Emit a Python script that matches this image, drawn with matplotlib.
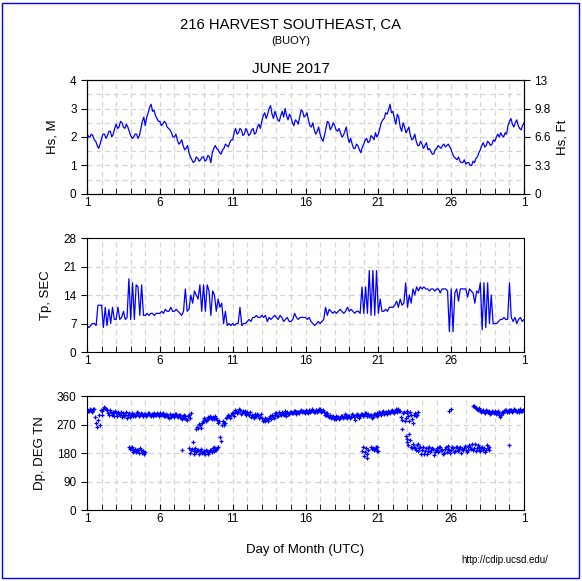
import numpy as np
import matplotlib
matplotlib.use("Agg")
import matplotlib.pyplot as plt
from matplotlib.patches import Rectangle

plt.rcParams['font.family'] = ['Liberation Sans', 'DejaVu Sans']

N = np.nan

# Hs (m), every 0.2 day from day 1.0 to 31.0
hs_m = [
    2.15, 2.0, 2.05, 1.85, 1.6,
    1.95, 2.1, 2.05, 2.2, 2.1,
    2.45, 2.35, 2.5, 2.3, 2.35,
    2.05, 2.0, 2.1, 2.05, 2.55,
    2.4, 2.85, 3.15, 2.95, 2.65,
    2.55, 2.45, 2.5, 2.3, 2.15,
    2.0, 1.9, 1.8, 1.7, 1.6,
    1.45, 1.2, 1.15, 1.25, 1.2,
    1.3, 1.2, 1.3, 1.45, 1.7,
    1.55, 1.4, 1.6, 1.7, 1.8,
    1.9, 2.3, 2.15, 2.25, 2.1,
    2.2, 2.1, 2.3, 2.15, 2.45,
    2.55, 2.85, 2.8, 3.1, 2.65,
    2.75, 2.55, 2.9, 3.0, 2.6,
    2.7, 2.4, 2.55, 2.7, 2.9,
    2.75, 2.6, 2.35, 2.25, 2.2,
    2.1, 1.85, 2.3, 2.5, 2.35,
    2.4, 2.2, 2.15, 2.05, 2.35,
    1.8, 1.75, 1.6, 1.7, 1.45,
    1.75, 1.95, 1.85, 2.0, 2.15,
    2.1, 2.5, 2.65, 2.8, 3.15,
    2.9, 2.45, 2.7, 2.2, 2.35,
    2.25, 2.05, 1.95, 1.85, 1.7,
    1.75, 1.7, 1.55, 1.5, 1.4,
    1.6, 1.65, 1.7, 1.65, 1.75,
    1.55, 1.3, 1.2, 1.15, 1.1,
    1.05, 1.1, 1.0, 1.1, 1.3,
    1.55, 1.8, 1.7, 1.8, 1.75,
    1.85, 2.1, 2.15, 2.0, 2.1,
    2.55, 2.45, 2.5, 2.4, 2.25,
    2.5,
]
# Hs (m) in between, days 1.1, 1.3, ... 30.9
hs_m_mid = [
    2.0, 2.1, 1.9, 1.7, 1.75,
    2.1, 1.95, 2.2, 2.0, 2.3,
    2.3, 2.55, 2.35, 2.45, 2.2,
    1.95, 2.1, 1.95, 2.3, 2.7,
    2.7, 3.05, 2.9, 2.75, 2.55,
    2.4, 2.55, 2.35, 2.25, 2.0,
    2.1, 1.75, 1.9, 1.55, 1.7,
    1.3, 1.1, 1.3, 1.15, 1.3,
    1.15, 1.35, 1.1, 1.6, 1.6,
    1.45, 1.55, 1.75, 1.65, 1.9,
    2.15, 2.1, 2.3, 2.05, 2.3,
    2.05, 2.25, 2.1, 2.35, 2.3,
    2.75, 2.65, 3.0, 2.8, 2.9,
    2.6, 2.75, 2.7, 2.75, 2.8,
    2.5, 2.6, 2.45, 2.95, 2.7,
    2.85, 2.4, 2.5, 2.1, 2.35,
    1.95, 2.05, 2.55, 2.25, 2.5,
    2.25, 2.3, 2.0, 2.2, 2.0,
    1.95, 1.6, 1.75, 1.55, 1.65,
    1.9, 1.8, 2.05, 1.9, 2.0,
    2.3, 2.6, 2.85, 2.95, 2.85,
    2.65, 2.8, 2.35, 2.5, 2.15,
    2.35, 1.9, 2.1, 1.7, 1.85,
    1.6, 1.8, 1.6, 1.4, 1.55,
    1.7, 1.6, 1.75, 1.7, 1.65,
    1.4, 1.25, 1.3, 1.1, 1.2,
    1.1, 1.0, 1.15, 1.25, 1.45,
    1.7, 1.65, 1.85, 1.7, 1.9,
    2.0, 2.0, 2.05, 2.15, 2.4,
    2.65, 2.35, 2.6, 2.3, 2.4,
]

# Tp (s), every 0.125 day from day 1.0 to 31.0
tp_sec = [
    6.5, 6.0, 6.5, 7.0, 7.0, 6.5, 11.5, 11.5,
    11.5, 6.0, 11.0, 6.5, 10.5, 7.0, 11.0, 8.0,
    8.0, 11.0, 8.0, 8.5, 10.0, 8.0, 8.5, 18.0,
    8.0, 17.0, 8.0, 16.5, 16.0, 9.0, 16.5, 9.0,
    9.0, 9.5, 9.0, 9.5, 9.5, 9.0, 9.5, 9.5,
    9.5, 10.0, 9.5, 10.5, 10.0, 10.0, 11.0, 10.0,
    10.0, 10.5, 10.0, 9.5, 9.0, 10.0, 15.5, 10.0,
    10.5, 14.0, 12.0, 15.0, 14.0, 13.0, 16.5, 10.0,
    16.5, 10.0, 16.5, 15.0, 9.0, 15.0, 14.0, 10.0,
    13.0, 11.0, 12.0, 7.0, 10.0, 6.5, 7.0, 6.5,
    7.0, 6.5, 7.0, 7.0, 11.0, 6.5, 7.0, 7.0,
    7.5, 8.0, 7.5, 8.5, 8.5, 9.0, 8.5, 8.5,
    9.0, 8.5, 9.0, 7.5, 8.5, 8.0, 8.5, 9.0,
    8.5, 8.0, 9.0, 8.5, 7.5, 8.0, 8.5, 7.5,
    7.5, 8.0, 9.5, 8.5, 8.0, 8.5, 8.5, 8.5,
    8.5, 8.0, 8.5, 7.5, 7.0, 6.5, 7.0, 7.5,
    7.0, 7.5, 8.0, 11.0, 9.0, 10.5, 10.0, 9.5,
    10.0, 9.5, 10.0, 10.5, 10.0, 9.5, 10.0, 11.0,
    10.0, 10.5, 10.0, 9.5, 10.0, 10.0, 9.5, 16.0,
    9.5, 16.0, 9.5, 20.0, 9.0, 20.0, 9.0, 20.0,
    9.5, 13.0, 10.0, 10.0, 10.5, 10.0, 11.0, 11.0,
    11.0, 11.5, 12.5, 11.0, 13.0, 11.5, 12.0, 17.0,
    11.0, 14.0, 12.0, 15.5, 14.0, 16.0, 15.0, 16.0,
    15.5, 16.0, 15.5, 15.5, 15.0, 15.5, 15.5, 15.0,
    15.5, 15.5, 14.5, 15.5, 15.5, 15.5, 15.0, 5.0,
    15.5, 5.0, 14.5, 15.5, 12.5, 15.5, 15.5, 15.5,
    15.5, 13.5, 15.5, 15.0, 14.5, 12.0, 15.0, 14.5,
    17.0, 5.5, 17.0, 6.0, 17.0, 7.0, 14.0, 7.0,
    7.0, 7.0, 7.5, 8.0, 8.0, 8.5, 8.0, 8.0,
    17.0, 8.5, 7.5, 8.5, 7.0, 8.0, 8.5, 7.5,
    8.0,
]

# Dp (deg TN) at days 1.0, 1.125, ... ; main (northwest) band and southern swell band
dp_main = [
    318, 314, 316, 312, 320, 275, 285, 270,
    300, 318, 322, 315, 300, 310, 305, 298,
    305, 310, 300, 295, 305, 300, 292, 305,
    300, 298, 303, 300, 305, 300, 302, 298,
    303, 300, 305, 298, 302, 305, 300, 303,
    305, 302, 300, 298, 300, 290, 295, 300,
    298, 302, 295, 300, 288, 292, 298, 285,
    300, 305, N, N, 255, 260, 268, 275,
    280, 288, 285, 290, 292, 295, 288, 290,
    275, 230, 270, 268, 275, 295, 298, 300,
    305, 310, 312, 308, 315, 305, 310, 312,
    308, 300, 295, 298, 302, 296, 300, 295,
    290, 285, 282, 286, 292, 288, 295, 300,
    305, 298, 302, 310, 300, 305, 308, 302,
    310, 305, 312, 308, 310, 312, 308, 310,
    312, 310, 315, 312, 314, 310, 315, 312,
    318, 312, 308, 300, 305, 295, 290, 298,
    292, 288, 295, 290, 298, 295, 300, 290,
    298, 295, 300, 285, 296, 300, 298, 302,
    300, 305, 298, 296, 300, 295, 302, 305,
    300, 305, 308, 302, 310, 305, 308, 312,
    310, 312, 315, 318, 312, 285, 308, 290,
    305, 280, 300, 275, 305, 300, N, N,
    N, N, N, N, N, N, N, N,
    N, N, N, N, N, N, N, 312,
    318, N, N, N, N, N, N, N,
    N, N, N, N, 330, 325, 320, 318,
    315, 312, 310, 315, 308, 312, 305, 310,
    312, 308, 300, 295, 310, 312, 315, 312,
    310, 315, 312, 316, 310, 314, 318, 312,
    315,
]
dp_south = [
    N, N, N, N, N, N, N, N,
    N, N, N, N, N, N, N, N,
    N, N, N, N, N, N, N, 198,
    195, 190, 185, 182, 188, 195, 180, 185,
    182, N, N, N, N, N, N, N,
    N, N, N, N, N, N, N, N,
    N, N, N, N, 190, N, N, N,
    195, 188, 215, 185, 182, 190, 185, 180,
    186, 178, 185, 182, 190, 195, 185, 190,
    198, N, N, N, N, N, N, N,
    N, N, N, N, N, N, N, N,
    N, N, N, N, N, N, N, N,
    N, N, N, N, N, N, N, N,
    N, N, N, N, N, N, N, N,
    N, N, N, N, N, N, N, N,
    N, N, N, N, N, N, N, N,
    N, N, N, N, N, N, N, N,
    N, N, N, N, N, N, N, N,
    N, N, N, N, N, N, N, 185,
    170, 195, 178, N, 200, 195, 192, 198,
    185, N, N, N, N, N, N, N,
    N, N, N, N, N, 255, N, 235,
    215, 240, 200, 210, 195, 205, 185, 200,
    190, 178, 195, 185, 200, 188, 192, 182,
    195, 185, 200, 190, 180, 198, 192, 188,
    190, 195, 185, 198, 188, 200, 192, 196,
    190, 198, 205, 192, 188, 210, 195, 200,
    185, 200, 195, 188, 195, 200, N, N,
    N, N, N, N, N, N, N, N,
    205, N, N, N, N, N, N, N,
    N,
]
# Dp (deg TN) at days 1.0625, 1.1875, ... 30.9375
dp_main_b = [
    312, 320, 310, 318, 295, 262, 300, 315,
    312, 325, 318, 305, 315, 300, 308, 312,
    298, 302, 308, 300, 298, 310, 300, 295,
    305, 300, 296, 308, 298, 306, 296, 304,
    298, 306, 300, 304, 296, 300, 306, 298,
    300, 306, 296, 304, 295, 302, 300, 294,
    304, 296, 300, 292, 298, 300, 288, 296,
    292, N, N, N, 262, 272, 258, 282,
    292, 280, 294, 298, 286, 292, 298, 284,
    282, 218, 280, 276, 290, 300, 292, 305,
    298, 315, 305, 318, 302, 314, 306, 300,
    302, 310, 300, 292, 296, 304, 290, 302,
    282, 292, 288, 280, 296, 300, 292, 306,
    298, 308, 300, 304, 312, 298, 304, 310,
    306, 314, 304, 310, 306, 316, 312, 306,
    316, 306, 310, 318, 308, 316, 310, 318,
    310, 316, 300, 306, 296, 300, 295, 288,
    296, 295, 288, 298, 292, 302, 294, 298,
    292, 302, 294, 300, 304, 292, 304, 296,
    306, 296, 302, 300, 292, 304, 300, 298,
    308, 300, 312, 306, 304, 312, 306, 316,
    306, 318, 310, 314, 295, 306, 282, 312,
    298, 308, 288, 300, 298, 310, N, N,
    N, N, N, N, N, N, N, N,
    N, N, N, N, N, N, N, N,
    N, N, N, N, N, N, N, N,
    N, N, N, N, 328, 322, 316, 322,
    310, 316, 306, 312, 310, 304, 314, 306,
    304, 314, 306, 300, 306, 316, 310, 316,
    316, 310, 318, 312, 316, 310, 314, 316,
]
dp_south_b = [
    N, N, N, N, N, N, N, N,
    N, N, N, N, N, N, N, N,
    N, N, N, N, N, N, N, 192,
    200, 184, 192, 188, 180, 190, 186, 178,
    N, N, N, N, N, N, N, N,
    N, N, N, N, N, N, N, N,
    N, N, N, N, N, N, N, N,
    180, 192, 178, 195, 188, 178, 192, 184,
    180, 190, 176, 188, 184, 200, 188, 195,
    N, N, N, N, N, N, N, N,
    N, N, N, N, N, N, N, N,
    N, N, N, N, N, N, N, N,
    N, N, N, N, N, N, N, N,
    N, N, N, N, N, N, N, N,
    N, N, N, N, N, N, N, N,
    N, N, N, N, N, N, N, N,
    N, N, N, N, N, N, N, N,
    N, N, N, N, N, N, N, N,
    N, N, N, N, N, N, N, 200,
    182, 165, 190, N, 192, 188, 200, 185,
    N, N, N, N, N, N, N, N,
    N, N, N, N, N, N, N, 225,
    205, 220, 195, 198, 188, 210, 195, 178,
    200, 185, 176, 195, 182, 196, 175, 190,
    182, 198, 188, 176, 192, 184, 202, 180,
    198, 182, 200, 186, 195, 180, 188, 202,
    182, 190, 198, 208, 196, 185, 205, 188,
    196, 190, 182, 205, 188, N, N, N,
    N, N, N, N, N, N, N, N,
    N, N, N, N, N, N, N, N,
]

day_ticks = [1, 6, 11, 16, 21, 26, 31]
day_labels = ['1', '6', '11', '16', '21', '26', '1']
ft_labels = ['0', '3.3', '6.6', '9.8', '13']

# sample times
hs_days = np.concatenate([1.0 + 0.2 * np.arange(len(hs_m)), 1.1 + 0.2 * np.arange(len(hs_m_mid))])
hs_vals = np.concatenate([hs_m, hs_m_mid])
order = np.argsort(hs_days)
hs_days, hs_vals = hs_days[order], hs_vals[order]
tp_days = 1.0 + 0.125 * np.arange(len(tp_sec))
dp_days = np.concatenate([1.0 + 0.125 * np.arange(len(dp_main)), 1.0625 + 0.125 * np.arange(len(dp_main_b))])
dp_all_main = np.concatenate([dp_main, dp_main_b])
dp_all_south = np.concatenate([dp_south, dp_south_b])

blue = '#0000ff'
grid_kw = dict(color='#d4d4d4', linestyle=(0, (4, 3)), linewidth=0.9)

fig = plt.figure(figsize=(5.82, 5.81), dpi=100)
fig.patches.append(Rectangle((0.004, 0.006), 0.990, 0.989, transform=fig.transFigure,
                             fill=False, edgecolor=blue, linewidth=1.0))

left, width, height = 0.1495, 0.7509, 0.1962
ax1 = fig.add_axes([left, 0.6661, width, height])
ax2 = fig.add_axes([left, 0.3941, width, height])
ax3 = fig.add_axes([left, 0.1222, width, height])


def style_axis(ax, yticks, ylim, minor_y):
    ax.set_xlim(1, 31)
    ax.set_ylim(*ylim)
    ax.set_xticks(day_ticks)
    ax.set_xticklabels(day_labels)
    ax.set_xticks(np.arange(1, 32), minor=True)
    ax.set_yticks(yticks)
    ax.set_yticks(minor_y, minor=True)
    ax.grid(True, which='both', **grid_kw)
    ax.set_axisbelow(True)
    ax.tick_params(axis='x', which='both', direction='in', length=4, labelsize=8.5, pad=2)
    ax.tick_params(axis='y', which='major', direction='out', length=4, labelsize=8.5)
    ax.tick_params(axis='y', which='minor', length=0)
    for s in ax.spines.values():
        s.set_linewidth(0.8)


ax1.plot(hs_days, hs_vals, color=blue, linewidth=0.9)
style_axis(ax1, [0, 1, 2, 3, 4], (0, 4), [0.5, 1.5, 2.5, 3.5])
ax1.set_ylabel('Hs, M', fontsize=9.5, labelpad=8)
ax1r = ax1.twinx()
ax1r.set_ylim(0, 4)
ax1r.set_yticks([0, 1, 2, 3, 4])
ax1r.set_yticklabels(ft_labels)
ax1r.tick_params(axis='y', direction='out', length=4, labelsize=8.5)
ax1r.set_ylabel('Hs, Ft', fontsize=9.5, labelpad=4)

ax2.plot(tp_days, tp_sec, color=blue, linewidth=0.9)
style_axis(ax2, [0, 7, 14, 21, 28], (0, 28), [])
ax2.set_ylabel('Tp, SEC', fontsize=9.5, labelpad=8)

ax3.plot(dp_days, dp_all_main, linestyle='None', marker='+', color=blue,
         markersize=3.5, markeredgewidth=0.9)
ax3.plot(dp_days, dp_all_south, linestyle='None', marker='+', color=blue,
         markersize=3.5, markeredgewidth=0.9)
style_axis(ax3, [0, 90, 180, 270, 360], (0, 360), [])
ax3.set_ylabel('Dp, DEG TN', fontsize=9.5, labelpad=8)
ax3.set_xlabel('Day of Month (UTC)', fontsize=9.5, labelpad=14)

fig.text(0.5, 0.957, '216 HARVEST SOUTHEAST, CA', ha='center', va='center', fontsize=10.7)
fig.text(0.5, 0.929, '(BUOY)', ha='center', va='center', fontsize=8)
fig.text(0.5, 0.881, 'JUNE 2017', ha='center', va='center', fontsize=11)
fig.text(0.868, 0.036, 'http://cdip.ucsd.edu/', ha='center', va='center', fontsize=7)

fig.savefig('out.png', dpi=100)
